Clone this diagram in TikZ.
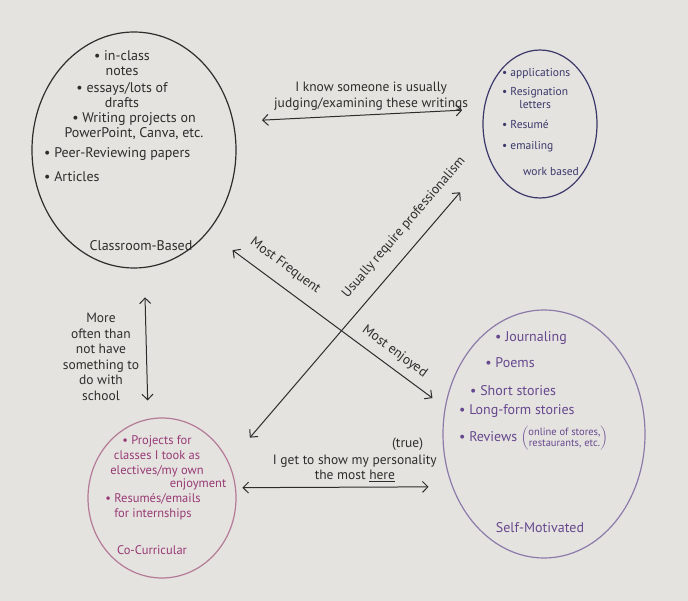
\documentclass[tikz,border=0pt]{standalone}
\usepackage{fontspec}
\setmainfont{PT Sans}
\usetikzlibrary{arrows.meta,shapes.geometric,positioning}
\definecolor{paper}{HTML}{E5E3DF}
\definecolor{pen}{HTML}{2E2D2C}
\definecolor{worknavy}{HTML}{3A386A}
\definecolor{selfviolet}{HTML}{66488F}
\definecolor{selfring}{HTML}{8C7BAA}
\definecolor{coplum}{HTML}{983A76}
\definecolor{coring}{HTML}{B47B98}
\tikzset{>={Straight Barb[length=5.5pt,width=11pt]},line width=1pt,
  every node/.style={font=\fontsize{14}{15}\selectfont},
  group/.style={ellipse,draw,line width=1.2pt,inner sep=0pt,outer sep=0pt},
  link/.style={<->,draw=pen,line width=1pt},
  tag/.style={text=pen,align=center,inner sep=1pt,font=\fontsize{13.5}{15.5}\selectfont},
  item/.style={align=center,inner sep=0pt},
  small/.style={font=\fontsize{11.5}{13.5}\selectfont}}
\begin{document}
\begin{tikzpicture}[x=1pt,y=-1pt]
\fill[paper] (0,0) rectangle (688,601);
\path[use as bounding box] (0,0) rectangle (688,601);
% the four kinds of writing
\node[group,draw=pen,minimum width=204pt,minimum height=236pt] (class) at (134,150) {};
\node[group,draw=worknavy,minimum width=114pt,minimum height=148pt] (work) at (540,124) {};
\node[group,draw=selfring,minimum width=202pt,minimum height=248pt] (self) at (544,434) {};
\node[group,draw=coring,minimum width=148pt,minimum height=160pt] (cocurr) at (162,498) {};
% classroom items
\begin{scope}[every node/.append style={text=pen}]
\node[item] (inclass) at (122,63) {• in-class\\notes};
\node[item] (essays) at (122,95) {• essays/lots of\\drafts};
\node[item] (projects) at (134,126) {• Writing projects on\\PowerPoint, Canva, etc.};
\node[item,anchor=west] (peer) at (44,154) {• Peer-Reviewing papers};
\node[item,anchor=west] (articles) at (44,177) {• Articles};
\node[item] (classname) at (141,246) {Classroom-Based};
\end{scope}
% work items
\begin{scope}[every node/.append style={text=worknavy,small}]
\node[item,anchor=west] (apps) at (502,74) {• applications};
\node[item,anchor=west] (resign) at (502,98) {• Resignation\\letters};
\node[item,anchor=west] (resume) at (502,124) {• Resumé};
\node[item,anchor=west] (emailing) at (502,147) {• emailing};
\node[item] (workname) at (551,172) {work based};
\end{scope}
% self-motivated items
\begin{scope}[every node/.append style={text=selfviolet}]
\node[item] (journal) at (531,338) {• Journaling};
\node[item] (poems) at (510,363) {• Poems};
\node[item,anchor=west] (short) at (470,391) {• Short stories};
\node[item,anchor=west] (longform) at (459,411) {• Long-form stories};
\node[item,anchor=west] (reviews) at (459,438) {• Reviews $\left(\hbox{\fontsize{10.5}{11.5}\selectfont
  \begin{tabular}{@{}c@{}}online of stores,\\restaurants, etc.\end{tabular}}\right)$};
\node[item] (selfname) at (540,528) {Self-Motivated};
\end{scope}
% co-curricular items
\begin{scope}[every node/.append style={text=coplum,font=\fontsize{12.5}{15}\selectfont}]
\node[item] (coproj) at (157,456) {• Projects for\\classes I took as\\electives/my own};
\node[item] (enjoy) at (198,484) {enjoyment};
\node[item] (intern) at (153,507) {• Resumés/emails\\for internships};
\node[item] (coname) at (152,550) {Co-Curricular};
\end{scope}
% how they relate
\draw[link,shorten <=29pt,shorten >=22pt] (class.16) -- node[tag,pos=.55,above=3pt] (judge) {I know someone is usually\\judging/examining these writings} (work.165);
\draw[link,shorten <=31pt,shorten >=16pt] (class.-48) -- node[tag,pos=.28,above=11pt,sloped] (frequent) {Most Frequent}
  node[tag,pos=.75,above=7pt,sloped] (enjoyed) {Most enjoyed} (self.165);
\draw[link,shorten <=33pt,shorten >=45pt] (cocurr.28) -- node[tag,pos=.73,above=12pt,sloped] (profess) {Usually require professionalism} (work.214);
\draw[link,shorten <=30pt,shorten >=19pt] (class.-85) -- node[tag,pos=.59,left=6pt] (school) {More\\often than\\not have\\something to\\do with\\school} (cocurr.100);
\draw[link,shorten <=7pt,shorten >=24pt] (cocurr.8) -- node[tag,pos=.55,above=4pt] (persona) {I get to show my personality\\the most \underline{here}} (self.210);
\node[tag,above left=1pt and 14pt of persona.north east] (truenote) {(true)};
\end{tikzpicture}
\end{document}
